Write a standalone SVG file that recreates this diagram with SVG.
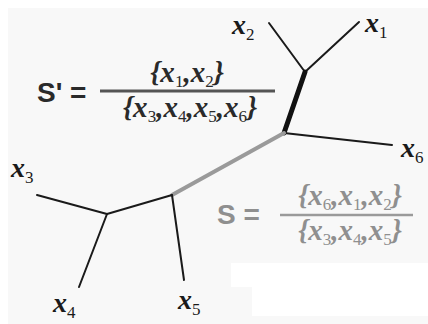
<svg xmlns="http://www.w3.org/2000/svg" width="428" height="324" viewBox="0 0 428 324">
<style>
.bg{fill:#f8f8f8}
.edge{fill:none;stroke:#1a1a1a;stroke-width:2;stroke-linecap:round}
.thick{fill:none;stroke:#111;stroke-width:5;stroke-linecap:round}
.grey{fill:none;stroke:#9a9a9a;stroke-width:4;stroke-linecap:round}
.lab{font-family:"Liberation Serif",serif;font-style:italic;font-weight:bold;font-size:28px;fill:#1a1a1a}
.sub{font-size:17px;font-weight:normal;font-style:normal}
.big{font-family:"Liberation Sans",sans-serif;font-weight:bold;font-size:28px}
.dark{fill:#2a2a2a}
.lite{fill:#8f8f8f}
.frac{font-family:"Liberation Serif",serif;font-style:italic;font-weight:bold;font-size:29px}
.fs{font-size:17px;font-weight:normal;font-style:normal}
.rule-d{stroke:#555;stroke-width:3}
.rule-l{stroke:#9a9a9a;stroke-width:2.5}
</style>
<rect x="0" y="0" width="428" height="324" fill="#ffffff"/>
<rect class="bg" x="8" y="8" width="420" height="316"/>
<path d="M231 263 H428 V316 H252 V287 H231 Z" fill="#ffffff"/>
<g id="connectors">
<line class="edge" x1="269" y1="23" x2="305" y2="72"/>
<line class="edge" x1="359" y1="22" x2="305" y2="72"/>
<line class="thick" x1="305" y1="72" x2="284" y2="133"/>
<line class="edge" x1="284" y1="133" x2="392" y2="145"/>
<line class="grey" x1="284" y1="133" x2="172" y2="195"/>
<line class="edge" x1="172" y1="195" x2="184" y2="280"/>
<line class="edge" x1="172" y1="195" x2="107" y2="214"/>
<line class="edge" x1="107" y1="214" x2="37" y2="195"/>
<line class="edge" x1="107" y1="214" x2="79" y2="287"/>
</g>
<g id="x1"><text class="lab" x="365" y="32">x<tspan class="sub" dy="6">1</tspan></text></g>
<g id="x2"><text class="lab" x="232" y="34">x<tspan class="sub" dy="6">2</tspan></text></g>
<g id="x6"><text class="lab" x="401" y="157">x<tspan class="sub" dy="6">6</tspan></text></g>
<g id="x3"><text class="lab" x="11" y="177">x<tspan class="sub" dy="6">3</tspan></text></g>
<g id="x4"><text class="lab" x="53" y="312">x<tspan class="sub" dy="6">4</tspan></text></g>
<g id="x5"><text class="lab" x="178" y="309">x<tspan class="sub" dy="6">5</tspan></text></g>
<g id="split-s-prime">
<text class="big dark" x="37" y="102">S' =</text>
<text class="frac dark" x="187" y="82" text-anchor="middle">{x<tspan class="fs" dy="5">1</tspan><tspan dy="-5">,x</tspan><tspan class="fs" dy="5">2</tspan><tspan dy="-5">}</tspan></text>
<line class="rule-d" x1="100" y1="91" x2="275" y2="91"/>
<text class="frac dark" x="190" y="117" text-anchor="middle">{x<tspan class="fs" dy="5">3</tspan><tspan dy="-5">,x</tspan><tspan class="fs" dy="5">4</tspan><tspan dy="-5">,x</tspan><tspan class="fs" dy="5">5</tspan><tspan dy="-5">,x</tspan><tspan class="fs" dy="5">6</tspan><tspan dy="-5">}</tspan></text>
</g>
<g id="split-s">
<text class="big lite" x="217" y="224">S =</text>
<text class="frac lite" x="350" y="205" text-anchor="middle">{x<tspan class="fs" dy="5">6</tspan><tspan dy="-5">,x</tspan><tspan class="fs" dy="5">1</tspan><tspan dy="-5">,x</tspan><tspan class="fs" dy="5">2</tspan><tspan dy="-5">}</tspan></text>
<line class="rule-l" x1="280" y1="215" x2="413" y2="215"/>
<text class="frac lite" x="350" y="240" text-anchor="middle">{x<tspan class="fs" dy="5">3</tspan><tspan dy="-5">,x</tspan><tspan class="fs" dy="5">4</tspan><tspan dy="-5">,x</tspan><tspan class="fs" dy="5">5</tspan><tspan dy="-5">}</tspan></text>
</g>
</svg>
